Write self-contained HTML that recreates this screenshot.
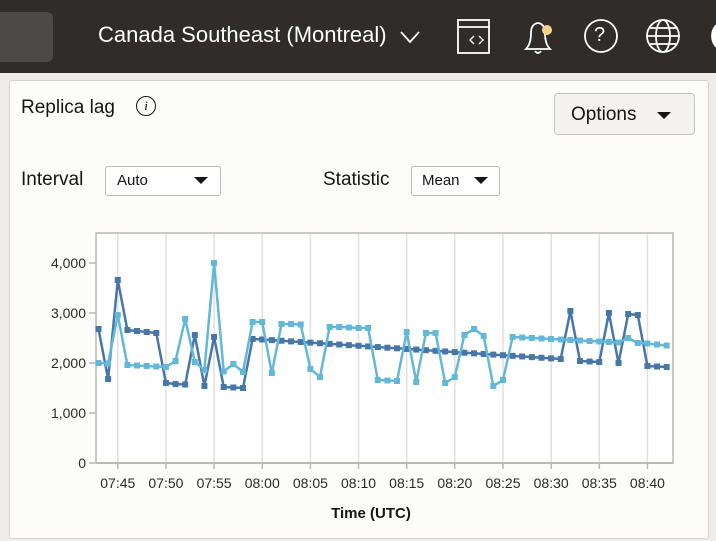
<!DOCTYPE html>
<html><head><meta charset="utf-8"><style>
body{margin:0;width:716px;height:541px;overflow:hidden;background:#efedea;font-family:"Liberation Sans",sans-serif;position:relative}
.hdr{position:absolute;left:0;top:0;width:716px;height:73px;background:#2f2c29}
.panel{position:absolute;left:9px;top:80px;width:698px;height:457px;background:#fcfcfa;border:1px solid #d6d3cf;border-radius:3px}
.t{position:absolute;white-space:nowrap}
.sel{position:absolute;border:1px solid #bdb9b4;border-radius:3px;background:#fff;height:30px;box-sizing:border-box}
.tri{position:absolute;width:0;height:0;border-left:7px solid transparent;border-right:7px solid transparent;border-top:7px solid #161513}
</style></head><body>
<div class="hdr">
<div style="position:absolute;left:-5px;top:12px;width:58px;height:50px;background:#4d4946;border-radius:6px"></div>
<div class="t" style="left:98px;top:22px;font-size:22px;color:#fff">Canada Southeast (Montreal)</div>
<svg width="716" height="73" style="position:absolute;left:0;top:0" fill="none" stroke="#fff" stroke-width="1.8">
<path d="M401 32 L410 42 L419 32"/>
<rect x="458" y="20" width="31" height="33"/><path d="M458 27 H489"/><path d="M474 36 l-4 4 4 4 M479 36 l4 4 -4 4" stroke-width="1.4"/>
<path d="M526 49 Q531 44 531 33 Q531 24 538 23 Q545 24 545 33 Q545 44 550 49 Z"/><path d="M535 51 q3 4 6 0"/>
<circle cx="601" cy="36" r="16"/><circle cx="663" cy="36" r="16"/><ellipse cx="663" cy="36" rx="7" ry="16"/><path d="M647 36 H679 M650 28 H676 M650 44 H676"/>
<circle cx="728" cy="36" r="16" fill="#fff"/>
</svg>
<div style="position:absolute;left:542px;top:25px;width:10px;height:10px;border-radius:50%;background:#f4d28c"></div>
<div class="t" style="left:594px;top:24px;font-size:20px;color:#fff">?</div>
</div>
<div class="panel"></div>
<div class="t" style="left:21px;top:97px;font-size:19px;color:#161513">Replica lag</div>
<div style="position:absolute;left:136px;top:96px;width:20px;height:20px;border:1.5px solid #161513;border-radius:50%;box-sizing:border-box;font:italic 13px 'Liberation Serif',serif;text-align:center;line-height:18px">i</div>
<div style="position:absolute;left:554px;top:93px;width:141px;height:42px;border:1px solid #c8c4bf;border-radius:4px;background:#f3f2f0;box-sizing:border-box"></div>
<div class="t" style="left:571px;top:104px;font-size:19px;color:#161513">Options</div>
<div class="tri" style="left:657px;top:112px"></div>
<div class="t" style="left:21px;top:169px;font-size:19px;color:#161513">Interval</div>
<div class="sel" style="left:105px;top:166px;width:116px"></div>
<div class="t" style="left:117px;top:172px;font-size:15px;color:#161513">Auto</div>
<div class="tri" style="left:194px;top:177px"></div>
<div class="t" style="left:323px;top:169px;font-size:19px;color:#161513">Statistic</div>
<div class="sel" style="left:411px;top:166px;width:89px"></div>
<div class="t" style="left:422px;top:172px;font-size:15px;color:#161513">Mean</div>
<div class="tri" style="left:474px;top:177px"></div>
<svg id="c" width="716" height="541" style="position:absolute;left:0;top:0"></svg>
<script>
var s='';
s+='<rect x="96" y="233" width="577" height="230" fill="#fff" stroke="#bcb7b1" stroke-width="1.5"/>';
var lab=['07:45','07:50','07:55','08:00','08:05','08:10','08:15','08:20','08:25','08:30','08:35','08:40'];
for(var k=0;k<12;k++){var x=117.8+48.15*k;s+='<line x1="'+x+'" y1="234" x2="'+x+'" y2="462" stroke="#e2e0dd" stroke-width="1.5"/><line x1="'+x+'" y1="463" x2="'+x+'" y2="469" stroke="#bcb7b1" stroke-width="1.5"/><text x="'+x+'" y="488" font-size="14" text-anchor="middle" fill="#2b2a28" font-family="Liberation Sans">'+lab[k]+'</text>';}
for(var v=0;v<=4;v++){var y=463-50*v;s+='<line x1="89" y1="'+y+'" x2="96" y2="'+y+'" stroke="#bcb7b1" stroke-width="1.5"/><text x="86" y="'+(y+5)+'" font-size="14" text-anchor="end" fill="#2b2a28" font-family="Liberation Sans">'+(v?v+',000':'0')+'</text>';}
s+='<line x1="96" y1="463" x2="673" y2="463" stroke="#bcb7b1" stroke-width="2"/>';
s+='<text x="371" y="518" font-size="15" font-weight="bold" text-anchor="middle" fill="#161513" font-family="Liberation Sans">Time (UTC)</text>';
var d=[2680,1680,3660,2660,2640,2620,2600,1600,1580,1570,2560,1540,2520,1520,1510,1500,2480];
for(var i=17;i<=48;i++)d.push(2470-(i-17)*390/31);
d=d.concat([3040,2040,2030,2020,3000,2000,2980,2960,1940,1930,1920]);
var l=[2000,1990,2960,1960,1950,1940,1930,1920,2040,2880,2020,1860,4000,1830,1980,1820,2820,2820,1800,2780,2780,2770,1880,1720,2720,2720,2710,2700,2700,1660,1650,1640,2620,1620,2600,2600,1600,1720,2560,2680,2540,1540,1660,2520,2510,2500,2490,2480,2470,2460,2450,2440,2430,2420,2410,2500,2400,2390,2370,2350];
function ser(a,c){var p=[],m='';for(var i=0;i<a.length;i++){var x=98.5+9.63*i,y=463-a[i]*0.05;p.push(x.toFixed(1)+','+y.toFixed(1));m+='<rect x="'+(x-3)+'" y="'+(y-3)+'" width="6" height="6" fill="'+c+'"/>';}
return '<polyline points="'+p.join(' ')+'" fill="none" stroke="'+c+'" stroke-width="2.5" stroke-linejoin="round"/>'+m;}
s+=ser(d,'#4876a6')+ser(l,'#63b8d8');
document.getElementById('c').innerHTML=s;
</script>
</body></html>
